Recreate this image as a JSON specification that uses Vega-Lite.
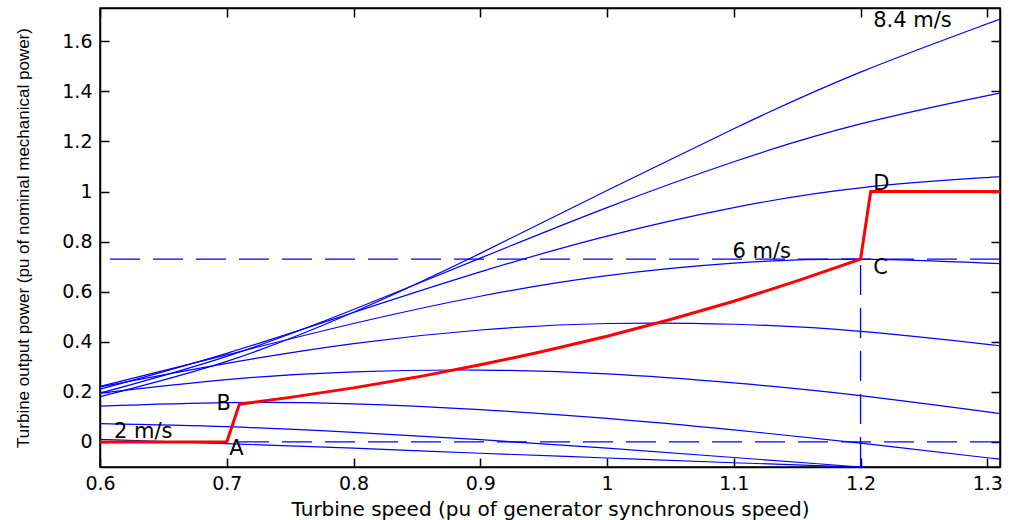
{
  "$schema": "https://vega.github.io/schema/vega-lite/v6.json",
  "width": 900,
  "height": 459,
  "autosize": {"type": "none"},
  "padding": {"left": 100, "top": 8, "right": 11, "bottom": 53},
  "background": "white",
  "config": {
    "view": {"stroke": "black", "strokeWidth": 1.5},
    "axis": {
      "grid": false,
      "domainColor": "black",
      "domainWidth": 1.5,
      "tickColor": "black",
      "tickWidth": 1.5,
      "tickSize": -9,
      "labelColor": "black",
      "labelFont": "DejaVu Sans",
      "labelFontSize": 19,
      "labelFlush": false,
      "labelOverlap": false,
      "titleColor": "black",
      "titleFontWeight": "normal"
    }
  },
  "resolve": {"axis": {"x": "independent", "y": "independent"}},
  "layer": [
    {
      "data": {
        "values": [
          {"v": "8.4", "s": 0.6, "p": 0.181}, {"v": "8.4", "s": 0.7, "p": 0.322}, {"v": "8.4", "s": 0.8, "p": 0.518}, {"v": "8.4", "s": 0.9, "p": 0.753}, {"v": "8.4", "s": 1.0, "p": 1.004}, {"v": "8.4", "s": 1.1, "p": 1.251}, {"v": "8.4", "s": 1.2, "p": 1.477}, {"v": "8.4", "s": 1.3, "p": 1.670}, {"v": "8.4", "s": 1.31, "p": 1.690},
          {"v": "7.6", "s": 0.6, "p": 0.195}, {"v": "7.6", "s": 0.7, "p": 0.342}, {"v": "7.6", "s": 0.8, "p": 0.529}, {"v": "7.6", "s": 0.9, "p": 0.734}, {"v": "7.6", "s": 1.0, "p": 0.936}, {"v": "7.6", "s": 1.1, "p": 1.119}, {"v": "7.6", "s": 1.2, "p": 1.270}, {"v": "7.6", "s": 1.3, "p": 1.383}, {"v": "7.6", "s": 1.31, "p": 1.393},
          {"v": "6.8", "s": 0.6, "p": 0.211}, {"v": "6.8", "s": 0.7, "p": 0.354}, {"v": "6.8", "s": 0.8, "p": 0.517}, {"v": "6.8", "s": 0.9, "p": 0.679}, {"v": "6.8", "s": 1.0, "p": 0.822}, {"v": "6.8", "s": 1.1, "p": 0.936}, {"v": "6.8", "s": 1.2, "p": 1.015}, {"v": "6.8", "s": 1.3, "p": 1.056}, {"v": "6.8", "s": 1.31, "p": 1.060},
          {"v": "6", "s": 0.6, "p": 0.222}, {"v": "6", "s": 0.7, "p": 0.348}, {"v": "6", "s": 0.8, "p": 0.473}, {"v": "6", "s": 0.9, "p": 0.582}, {"v": "6", "s": 1.0, "p": 0.664}, {"v": "6", "s": 1.1, "p": 0.714}, {"v": "6", "s": 1.2, "p": 0.730}, {"v": "6", "s": 1.3, "p": 0.714}, {"v": "6", "s": 1.31, "p": 0.712},
          {"v": "5.2", "s": 0.6, "p": 0.220}, {"v": "5.2", "s": 0.7, "p": 0.314}, {"v": "5.2", "s": 0.8, "p": 0.393}, {"v": "5.2", "s": 0.9, "p": 0.447}, {"v": "5.2", "s": 1.0, "p": 0.473}, {"v": "5.2", "s": 1.1, "p": 0.470}, {"v": "5.2", "s": 1.2, "p": 0.442}, {"v": "5.2", "s": 1.3, "p": 0.390}, {"v": "5.2", "s": 1.31, "p": 0.384},
          {"v": "4.4", "s": 0.6, "p": 0.195}, {"v": "4.4", "s": 0.7, "p": 0.249}, {"v": "4.4", "s": 0.8, "p": 0.280}, {"v": "4.4", "s": 0.9, "p": 0.287}, {"v": "4.4", "s": 1.0, "p": 0.272}, {"v": "4.4", "s": 1.1, "p": 0.236}, {"v": "4.4", "s": 1.2, "p": 0.185}, {"v": "4.4", "s": 1.3, "p": 0.120}, {"v": "4.4", "s": 1.31, "p": 0.113},
          {"v": "3.6", "s": 0.6, "p": 0.143}, {"v": "3.6", "s": 0.7, "p": 0.157}, {"v": "3.6", "s": 0.8, "p": 0.152}, {"v": "3.6", "s": 0.9, "p": 0.129}, {"v": "3.6", "s": 1.0, "p": 0.094}, {"v": "3.6", "s": 1.1, "p": 0.048}, {"v": "3.6", "s": 1.2, "p": -0.005}, {"v": "3.6", "s": 1.3, "p": -0.063}, {"v": "3.6", "s": 1.31, "p": -0.069},
          {"v": "2.8", "s": 0.6, "p": 0.073}, {"v": "2.8", "s": 0.7, "p": 0.061}, {"v": "2.8", "s": 0.8, "p": 0.038}, {"v": "2.8", "s": 0.9, "p": 0.009}, {"v": "2.8", "s": 1.0, "p": -0.025}, {"v": "2.8", "s": 1.1, "p": -0.062}, {"v": "2.8", "s": 1.2, "p": -0.100}, {"v": "2.8", "s": 1.3, "p": -0.138},
          {"v": "2", "s": 0.6, "p": 0.010}, {"v": "2", "s": 0.7, "p": -0.007}, {"v": "2", "s": 0.8, "p": -0.025}, {"v": "2", "s": 0.9, "p": -0.045}, {"v": "2", "s": 1.0, "p": -0.064}, {"v": "2", "s": 1.1, "p": -0.083}, {"v": "2", "s": 1.2, "p": -0.100}, {"v": "2", "s": 1.3, "p": -0.118}
        ]
      },
      "mark": {"type": "line", "color": "#0000ff", "strokeWidth": 1.2, "interpolate": "natural", "clip": true},
      "encoding": {
        "x": {
          "field": "s", "type": "quantitative",
          "scale": {"domain": [0.6, 1.31], "nice": false, "zero": false},
          "axis": {
            "orient": "bottom",
            "values": [0.6, 0.7, 0.8, 0.9, 1.0, 1.1, 1.2, 1.3],
            "format": "~g",
            "labelPadding": 16,
            "title": "Turbine speed (pu of generator synchronous speed)",
            "titleFont": "DejaVu Sans",
            "titleFontSize": 20,
            "titleBaseline": "alphabetic",
            "titleY": 48
          }
        },
        "y": {
          "field": "p", "type": "quantitative",
          "scale": {"domain": [-0.1, 1.733], "nice": false, "zero": false},
          "axis": {
            "orient": "left",
            "values": [0, 0.2, 0.4, 0.6, 0.8, 1.0, 1.2, 1.4, 1.6],
            "format": "~g",
            "labelPadding": 17,
            "title": "Turbine output power (pu of nominal mechanical power)",
            "titleFont": "Liberation Sans",
            "titleFontSize": 17,
            "titleX": -77,
            "titleBaseline": "middle"
          }
        },
        "detail": {"field": "v", "type": "nominal"}
      }
    },
    {
      "data": {"values": [{"level": 0}, {"level": 0.73}]},
      "mark": {"type": "rule", "color": "#0000ff", "strokeWidth": 1.3, "strokeDash": [30, 13]},
      "encoding": {
        "y": {"field": "level", "type": "quantitative", "axis": null}
      }
    },
    {
      "data": {"values": [{"speed": 1.2, "low": -0.1, "high": 0.73}]},
      "mark": {"type": "rule", "color": "#0000ff", "strokeWidth": 1.3, "strokeDash": [30, 13]},
      "encoding": {
        "x": {"field": "speed", "type": "quantitative", "axis": null},
        "y": {"field": "low", "type": "quantitative", "axis": null},
        "y2": {"field": "high"}
      }
    },
    {
      "data": {
        "values": [
          {"s": 0.6, "p": 0}, {"s": 0.7, "p": 0}, {"s": 0.71, "p": 0.151}, {"s": 0.75, "p": 0.178},
          {"s": 0.8, "p": 0.216}, {"s": 0.85, "p": 0.259}, {"s": 0.9, "p": 0.308}, {"s": 0.95, "p": 0.362},
          {"s": 1.0, "p": 0.422}, {"s": 1.05, "p": 0.489}, {"s": 1.1, "p": 0.562}, {"s": 1.15, "p": 0.643},
          {"s": 1.2, "p": 0.73}, {"s": 1.208, "p": 1.0}, {"s": 1.31, "p": 1.0}
        ]
      },
      "mark": {"type": "line", "color": "#ff0000", "strokeWidth": 3, "clip": true},
      "encoding": {
        "x": {
          "field": "s", "type": "quantitative",
          "axis": {"orient": "top", "values": [0.6, 0.7, 0.8, 0.9, 1.0, 1.1, 1.2, 1.3], "labels": false, "title": null}
        },
        "y": {
          "field": "p", "type": "quantitative",
          "axis": {"orient": "right", "values": [0, 0.2, 0.4, 0.6, 0.8, 1.0, 1.2, 1.4, 1.6], "labels": false, "title": null}
        }
      }
    },
    {
      "data": {
        "values": [
          {"label": "8.4 m/s", "s": 1.21, "p": 1.681},
          {"label": "6 m/s", "s": 1.099, "p": 0.758},
          {"label": "2 m/s", "s": 0.611, "p": 0.039},
          {"label": "A", "s": 0.702, "p": -0.027},
          {"label": "B", "s": 0.692, "p": 0.153},
          {"label": "C", "s": 1.21, "p": 0.694},
          {"label": "D", "s": 1.21, "p": 1.032}
        ]
      },
      "mark": {"type": "text", "align": "left", "baseline": "middle", "font": "DejaVu Sans", "fontSize": 21, "color": "black"},
      "encoding": {
        "x": {"field": "s", "type": "quantitative", "axis": null},
        "y": {"field": "p", "type": "quantitative", "axis": null},
        "text": {"field": "label"}
      }
    }
  ]
}
